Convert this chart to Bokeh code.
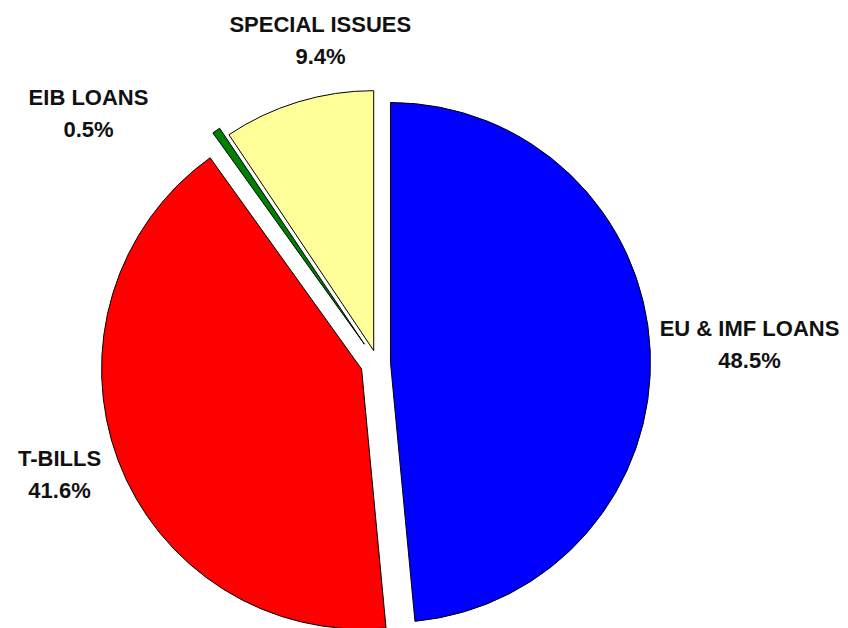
import numpy as np
from bokeh.plotting import figure
from bokeh.models import Range1d, ColumnDataSource
from bokeh.core.properties import value
from bokeh.embed import file_html
from bokeh.resources import INLINE

# ---- data ----
categories = ["EU & IMF LOANS", "T-BILLS", "EIB LOANS", "SPECIAL ISSUES"]
shares = [48.5, 41.6, 0.5, 9.4]
colors = ["#0000FF", "#FF0000", "#008000", "#FFFF99"]

# ---- layout ----
W, H = 848, 628
cx, cy = 377.0, H - 362.6
radius = 260.0
explode = [13, 17, 23, 13]
label_pos = [(749, 328), (59, 458), (88, 97), (320, 24)]  # screen coords of first line
line_gap = 32

vals = np.array(shares, dtype=float)
frac = vals / vals.sum()
cum = np.concatenate([[0], np.cumsum(frac)])
start_deg = 90 - cum[:-1] * 360   # clockwise from 12 o'clock
end_deg = 90 - cum[1:] * 360
mid = np.deg2rad((start_deg + end_deg) / 2)
ex = np.array(explode, dtype=float)
xs = cx + ex * np.cos(mid)
ys = cy + ex * np.sin(mid)

src = ColumnDataSource(dict(
    x=xs, y=ys,
    start=np.deg2rad(end_deg), end=np.deg2rad(start_deg),
    color=colors, cat=categories,
))

p = figure(width=W, height=H, x_range=Range1d(0, W), y_range=Range1d(0, H),
           output_backend="svg", toolbar_location=None, min_border=0)
p.axis.visible = False
p.grid.visible = False
p.outline_line_color = None
p.background_fill_color = "white"
p.border_fill_color = "white"

p.wedge(x="x", y="y", radius=radius, start_angle="start", end_angle="end",
        direction="anticlock", fill_color="color", line_color="black",
        line_width=1, source=src)

lx = [pt[0] for pt in label_pos]
ly1 = [H - pt[1] for pt in label_pos]
ly2 = [H - pt[1] - line_gap for pt in label_pos]
pct = [f"{v:.1f}%" for v in shares]

p.text(x=lx, y=ly1, text=categories, text_font=value("Liberation Sans"),
       text_font_style="bold", text_font_size="22px", text_color="#111111",
       text_align="center", text_baseline="middle")
p.text(x=lx, y=ly2, text=pct, text_font=value("Liberation Sans"),
       text_font_style="bold", text_font_size="22px", text_color="#111111",
       text_align="center", text_baseline="middle")

open("out.html", "w").write(file_html(p, INLINE))
